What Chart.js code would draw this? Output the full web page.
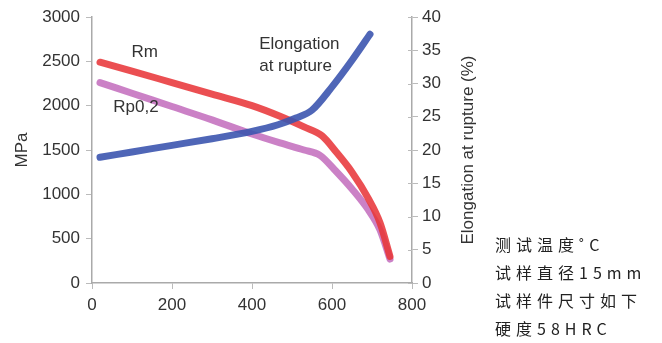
<!DOCTYPE html>
<html>
<head>
<meta charset="utf-8">
<script src="https://cdn.jsdelivr.net/npm/chart.js@4"></script>
<style>
    body { margin: 0; background: #fff; }
    #wrap { position: relative; width: 662px; height: 343px; }
    #note {
        position: absolute; left: 495px; top: 230px;
        font-family: "Noto Sans CJK SC", sans-serif; font-size: 16px;
        letter-spacing: 5px; line-height: 28px; color: #222;
    }
</style>
</head>
<body>
<div id="wrap">
    <canvas id="chart" width="662" height="343"></canvas>
    <div id="note">测试温度˚C<br>试样直径15mm<br>试样件尺寸如下<br>硬度58HRC</div>
</div>
<script>
// Temperatures (°C) and values
const rmTemp = [20, 100, 200, 300, 400, 470, 530, 575, 610, 650, 690, 720, 745];
const rmValues = [2490, 2390, 2260, 2130, 2000, 1880, 1760, 1660, 1480, 1250, 960, 680, 300];

const rpTemp = [20, 100, 200, 300, 400, 470, 530, 570, 610, 650, 690, 720, 745];
const rpValues = [2260, 2140, 1990, 1840, 1680, 1580, 1500, 1440, 1260, 1060, 830, 600, 270];

const elTemp = [20, 100, 200, 300, 400, 465, 510, 550, 600, 650, 695];
const elValues = [18.9, 19.7, 20.7, 21.7, 22.8, 23.8, 24.8, 26.0, 29.5, 33.5, 37.4];

const xTicks = [0, 200, 400, 600, 800];
const mpaTicks = [0, 500, 1000, 1500, 2000, 2500, 3000];
const elTicks = [0, 5, 10, 15, 20, 25, 30, 35, 40];

// Text labels placed in data coordinates: [text, temp, value, axis, align]
const curveLabels = [
    ['Rm', 132, 2600, 'y', 'center'],
    ['Rp0,2', 110, 1985, 'y', 'center'],
    ['Elongation', 418, 35.9, 'y2', 'left'],
    ['at rupture', 418, 32.6, 'y2', 'left']
];
const rightTitle = 'Elongation at rupture (%)';

const font = '"Liberation Sans", Arial, sans-serif';
const toPoints = (xs, ys) => xs.map((x, i) => ({ x: x, y: ys[i] }));

const labelPlugin = {
    id: 'curveLabels',
    afterDatasetsDraw(chart) {
        const ctx = chart.ctx;
        const y2 = chart.scales.y2;
        ctx.save();
        // right axis ticks also reach a little into the plot
        ctx.strokeStyle = '#bbb';
        ctx.lineWidth = 1;
        y2.ticks.forEach(t => {
            const py = Math.round(y2.getPixelForValue(t.value)) + 0.5;
            ctx.beginPath();
            ctx.moveTo(y2.left - 4, py);
            ctx.lineTo(y2.left, py);
            ctx.stroke();
        });
        ctx.font = '17px ' + font;
        ctx.fillStyle = '#333';
        ctx.textBaseline = 'middle';
        curveLabels.forEach(([text, tx, v, axis, align]) => {
            ctx.textAlign = align;
            ctx.fillText(text, chart.scales.x.getPixelForValue(tx), chart.scales[axis].getPixelForValue(v));
        });
        // right axis title, reading bottom to top
        const area = chart.chartArea;
        ctx.translate(y2.right - 12, (area.top + area.bottom) / 2);
        ctx.rotate(-Math.PI / 2);
        ctx.textAlign = 'center';
        ctx.fillText(rightTitle, 0, 0);
        ctx.restore();
    }
};

const lineStyle = {
    borderWidth: 7,
    pointRadius: 0,
    borderCapStyle: 'round',
    borderJoinStyle: 'round',
    cubicInterpolationMode: 'monotone',
    fill: false
};

const tickFont = { family: font, size: 17 };
const plain = v => String(v);

const ctx = document.getElementById('chart').getContext('2d');
new Chart(ctx, {
    type: 'line',
    data: {
        datasets: [
            Object.assign({ label: 'Elongation at rupture', data: toPoints(elTemp, elValues), yAxisID: 'y2',
                borderColor: 'rgba(60, 85, 175, 0.9)' }, lineStyle),
            Object.assign({ label: 'Rm', data: toPoints(rmTemp, rmValues), yAxisID: 'y',
                borderColor: 'rgba(232, 55, 58, 0.88)' }, lineStyle),
            Object.assign({ label: 'Rp0,2', data: toPoints(rpTemp, rpValues), yAxisID: 'y',
                borderColor: 'rgba(196, 112, 190, 0.88)' }, lineStyle)
        ]
    },
    options: {
        responsive: false,
        animation: false,
        layout: { padding: { left: 0, right: 182, top: 17, bottom: 0 } },
        plugins: { legend: { display: false }, tooltip: { enabled: false } },
        scales: {
            x: {
                type: 'linear', min: 0, max: 800,
                afterBuildTicks: s => { s.ticks = xTicks.map(v => ({ value: v })); },
                afterFit: s => { s.height = 60; },
                grid: { drawOnChartArea: false, tickLength: 6, color: '#bbb' },
                border: { color: '#aaa', width: 1.5 },
                ticks: { color: '#333', padding: 6, font: tickFont, callback: plain }
            },
            y: {
                position: 'left', min: 0, max: 3000,
                afterBuildTicks: s => { s.ticks = mpaTicks.map(v => ({ value: v })); },
                afterFit: s => { s.width = 92; },
                grid: { drawOnChartArea: false, tickLength: 6, color: '#bbb' },
                border: { color: '#aaa', width: 1.5 },
                ticks: { color: '#333', padding: 6, font: tickFont, callback: plain },
                title: { display: true, text: 'MPa', color: '#333', padding: { top: 12, bottom: 0 },
                    font: { family: font, size: 17 } }
            },
            y2: {
                position: 'right', min: 0, max: 40,
                afterBuildTicks: s => { s.ticks = elTicks.map(v => ({ value: v })); },
                afterFit: s => { s.width = 68; },
                grid: { drawOnChartArea: false, tickLength: 6, color: '#bbb' },
                border: { color: '#aaa', width: 1.5 },
                ticks: { color: '#333', padding: 4, font: tickFont, callback: plain }
            }
        }
    },
    plugins: [labelPlugin]
});
</script>
</body>
</html>
